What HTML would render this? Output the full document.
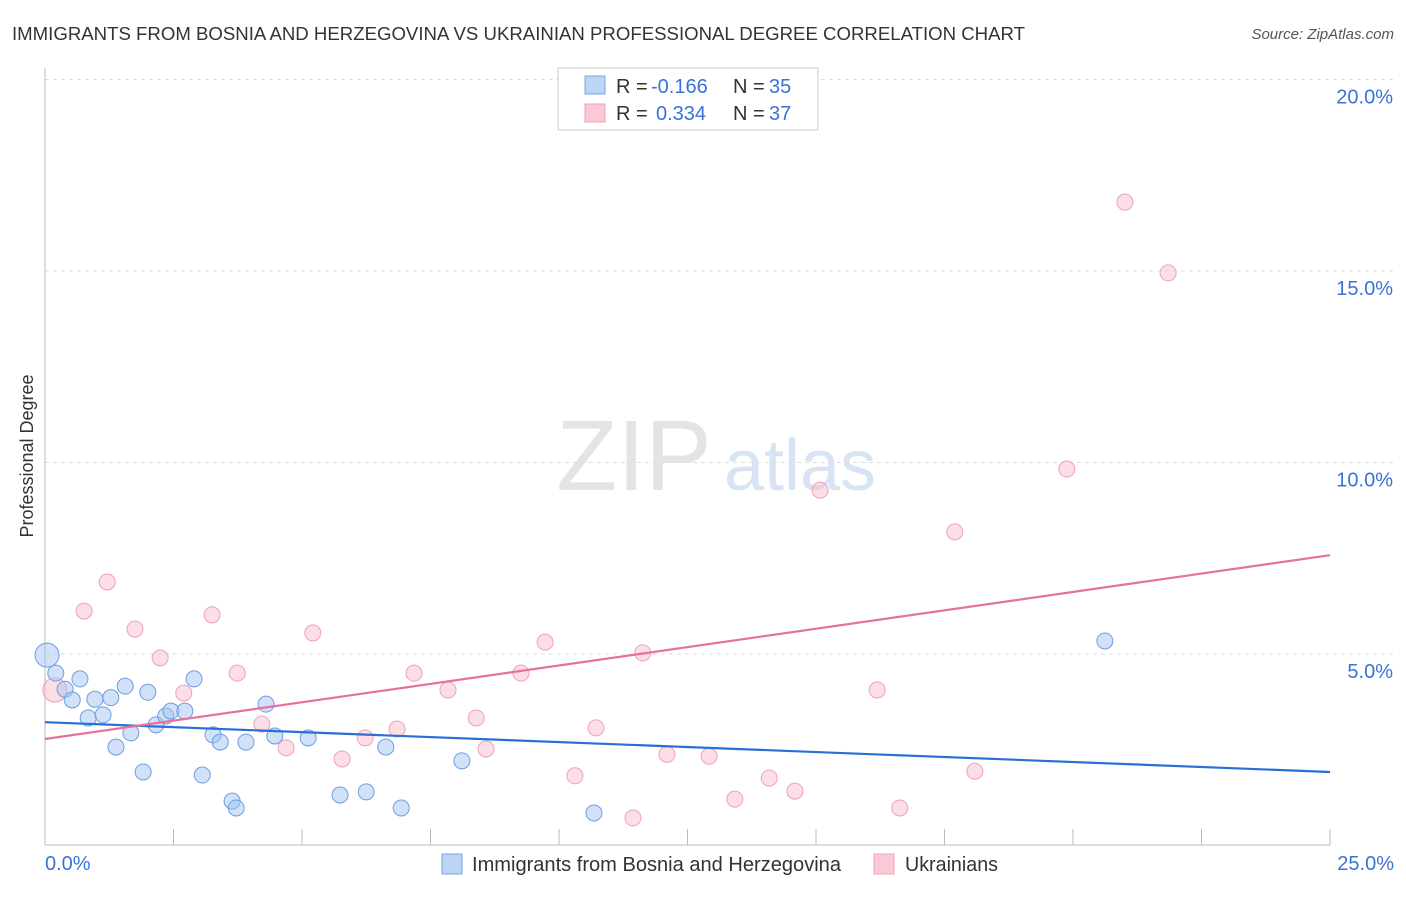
<!DOCTYPE html>
<html><head><meta charset="utf-8">
<style>
body{margin:0;background:#fff;font-family:"Liberation Sans",sans-serif;}
svg text{font-family:"Liberation Sans",sans-serif;}
</style></head>
<body>
<svg id="chart" width="1406" height="892">
<text x="12" y="40" font-size="18.5" fill="#333" textLength="1013" lengthAdjust="spacingAndGlyphs">IMMIGRANTS FROM BOSNIA AND HERZEGOVINA VS UKRAINIAN PROFESSIONAL DEGREE CORRELATION CHART</text>
<text x="1394" y="39" font-size="15" fill="#555" font-style="italic" text-anchor="end">Source: ZipAtlas.com</text>
<text x="634" y="490" font-size="100" fill="#e4e4e4" font-family="Liberation Serif" text-anchor="middle">ZIP</text>
<text x="800" y="490" font-size="72" fill="#d8e4f4" text-anchor="middle">atlas</text>
<text transform="translate(33,456) rotate(-90)" font-size="18" fill="#333" text-anchor="middle">Professional Degree</text>
<g id="grid"></g>
<g id="marks"></g>
<g>
<rect x="558" y="68" width="260" height="62" fill="#fff" stroke="#ccc"/>
<rect x="585" y="76" width="20" height="18" fill="#bcd4f6" stroke="#7aa6e0"/>
<text x="616" y="93" font-size="20" fill="#333">R =</text>
<text x="651" y="93" font-size="20" fill="#3a72d8">-0.166</text>
<text x="733" y="93" font-size="20" fill="#333">N =</text>
<text x="769" y="93" font-size="20" fill="#3a72d8">35</text>
<rect x="585" y="104" width="20" height="18" fill="#fbc8d6" stroke="#f0a0b8"/>
<text x="616" y="120" font-size="20" fill="#333">R =</text>
<text x="656" y="120" font-size="20" fill="#3a72d8">0.334</text>
<text x="733" y="120" font-size="20" fill="#333">N =</text>
<text x="769" y="120" font-size="20" fill="#3a72d8">37</text>
</g>
<g>
<rect x="442" y="854" width="20" height="20" fill="#bcd4f6" stroke="#7aa6e0"/>
<text x="472" y="871" font-size="20" fill="#333" textLength="369" lengthAdjust="spacingAndGlyphs">Immigrants from Bosnia and Herzegovina</text>
<rect x="874" y="854" width="20" height="20" fill="#fbc8d6" stroke="#f0a0b8"/>
<text x="905" y="871" font-size="20" fill="#333" textLength="93" lengthAdjust="spacingAndGlyphs">Ukrainians</text>
</g>
</svg>
<script>
const yTicks=[5,10,15,20];
const yTickLabels=["5.0%","10.0%","15.0%","20.0%"];
const xTickLabels=["0.0%","25.0%"];
const blueX=[0.04,0.21,0.39,0.53,0.68,0.84,0.97,1.13,1.28,1.38,1.56,1.67,1.91,2.00,2.16,2.35,2.45,2.72,2.90,3.06,3.27,3.41,3.64,3.72,3.91,4.30,4.47,5.12,5.74,6.25,6.63,6.93,8.11,10.68,20.62];
const blueY=[4.97,4.50,4.08,3.80,4.35,3.33,3.82,3.41,3.86,2.57,4.16,2.94,1.92,4.00,3.15,3.38,3.51,3.51,4.35,1.84,2.89,2.70,1.16,0.98,2.70,3.69,2.86,2.81,1.32,1.40,2.57,0.98,2.21,0.85,5.34];
const pinkX=[0.19,0.76,1.21,1.75,2.24,2.70,3.25,3.74,4.22,4.69,5.21,5.78,6.23,6.85,7.18,7.84,8.39,8.58,9.26,9.73,10.31,10.72,11.44,11.63,12.10,12.92,13.42,14.09,14.59,15.08,16.19,16.63,17.70,18.09,19.88,21.01,21.85];
const pinkY=[4.06,6.12,6.88,5.65,4.90,3.98,6.02,4.50,3.17,2.55,5.55,2.26,2.81,3.04,4.50,4.06,3.33,2.52,4.50,5.31,1.82,3.07,0.72,5.03,2.38,2.33,1.21,1.76,1.42,9.28,4.06,0.98,8.19,1.94,9.83,16.80,14.95];
const blueTrend=[3.22,1.92];
const pinkTrend=[2.78,7.58];
const NS="http://www.w3.org/2000/svg";
const X0=45,X1=1330,Y0=845.5,PY=38.3;
const xs=v=>X0+v/25*(X1-X0);
const ys=v=>Y0-v*PY;
function mk(t,a,p){const e=document.createElementNS(NS,t);for(const k in a)e.setAttribute(k,a[k]);p.appendChild(e);return e;}
const g=document.getElementById('grid'),m=document.getElementById('marks');
yTicks.forEach((t,i)=>{
 const l=mk('line',{x1:X0,x2:1395,y1:ys(t),y2:ys(t),stroke:'#ddd','stroke-dasharray':'4,4'},g);
 
 
 const tx=mk('text',{x:1393,y:ys(t)+24,'font-size':20,fill:'#3a72d8','text-anchor':'end'},g);
 tx.textContent=yTickLabels[i];
 
 
});
const ax=mk('line',{x1:X0,x2:X1,y1:845,y2:845,stroke:'#bbb'},g);


const ay=mk('line',{x1:X0,x2:X0,y1:68,y2:845,stroke:'#bbb'},g);


for(let i=0;i<=10;i++){const t=mk('line',{x1:xs(i*2.5),x2:xs(i*2.5),y1:829,y2:845,stroke:'#bbb'},g);
 
 }
[[0,'start',45],[1,'end',1394]].forEach(([i,a,x])=>{const t=mk('text',{x:x,y:870,'font-size':20,fill:'#3a72d8','text-anchor':a},g);t.textContent=xTickLabels[i];
 
 });
function pts(X,Y,fill,stroke,name){X.forEach((x,i)=>{const r=i===0?12:8;
 const c=mk('circle',{cx:xs(x),cy:ys(Y[i]),r:r,fill:fill,stroke:stroke,'stroke-width':1},m);
 
 });}
pts(pinkX,pinkY,'rgba(248,182,202,0.45)','#f0a0b8','ukrainian-point');
pts(blueX,blueY,'rgba(164,196,240,0.5)','#6d9ee0','bosnia-point');
const bl=mk('line',{x1:xs(0),y1:ys(blueTrend[0]),x2:xs(25),y2:ys(blueTrend[1]),stroke:'#2a6fd6','stroke-width':2.2},m);


const pl=mk('line',{x1:xs(0),y1:ys(pinkTrend[0]),x2:xs(25),y2:ys(pinkTrend[1]),stroke:'#e8709a','stroke-width':2.2},m);


</script>
</body></html>
